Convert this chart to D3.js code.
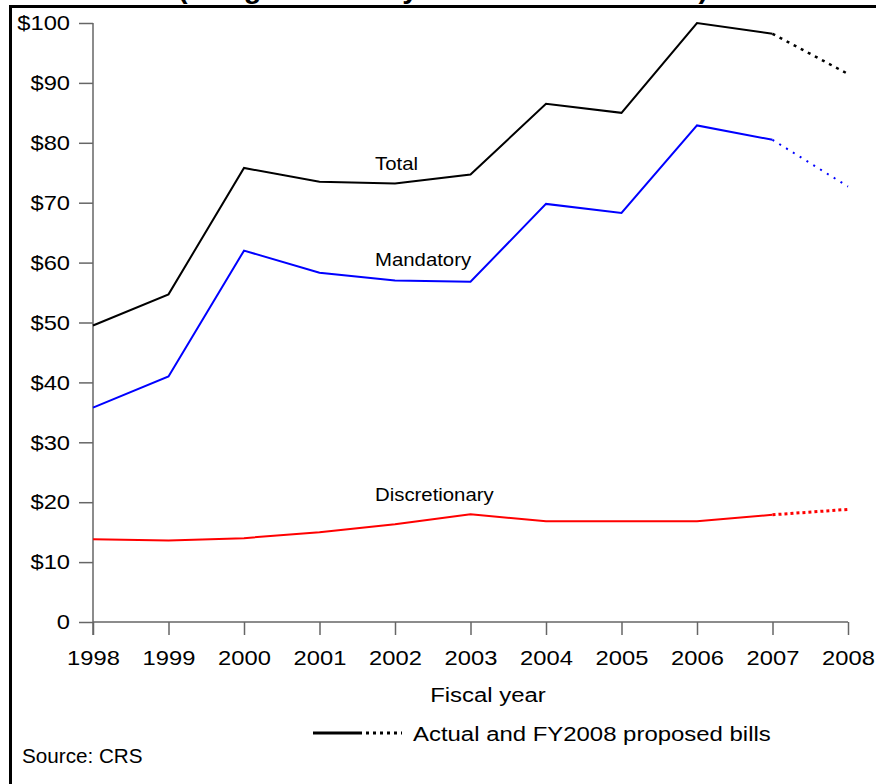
<!DOCTYPE html>
<html><head><meta charset="utf-8">
<script src="https://cdn.jsdelivr.net/npm/d3@7"></script>
<style>body{margin:0;background:#fff}svg{display:block;font-family:"Liberation Sans",Arial,sans-serif}</style>
</head><body><svg id="c" width="876" height="784"></svg>
<script>
const years = [1998,1999,2000,2001,2002,2003,2004,2005,2006,2007,2008];
const total = [49.5,54.7,75.8,73.5,73.2,74.7,86.5,85.0,100.0,98.2,91.5];
const mandatory = [35.8,41.0,62.0,58.3,57.0,56.8,69.8,68.3,82.9,80.5,72.7];
const discretionary = [13.8,13.6,14.0,15.0,16.3,18.0,16.8,16.8,16.8,17.9,18.8];
const yTicks = [0,10,20,30,40,50,60,70,80,90,100];
const yTickLabels = ["0","$10","$20","$30","$40","$50","$60","$70","$80","$90","$100"];
const seriesNames = ["Total","Mandatory","Discretionary"];
const seriesColors = ["#000000","#0000ff","#ff0000"];

const svg = d3.select("#c");
const x = d3.scaleLinear().domain([1998,2008]).range([93,848]);
const y = d3.scaleLinear().domain([0,100]).range([622,23]);

function stext(tx, ty, size, sx, str, anchor){
  return svg.append("text")
    .attr("transform",`translate(${tx},${ty}) scale(${sx},1)`)
    .attr("font-size",size).attr("text-anchor",anchor||"start").text(str);
}

// partially cropped title
stext(178,-2,28,1.03,"(Budget authority in billions of dollars)").attr("font-weight","bold");

// frame
svg.append("line").attr("x1",9).attr("x2",876).attr("y1",6.5).attr("y2",6.5).attr("stroke","#000").attr("stroke-width",3);
svg.append("line").attr("x1",10.5).attr("x2",10.5).attr("y1",5).attr("y2",784).attr("stroke","#000").attr("stroke-width",3);

const axisColor = "#666";
const tickSX = 1.13;
// y axis
const yAxis = d3.axisLeft(y).tickValues(yTicks).tickSize(14).tickPadding(8)
  .tickFormat((d,i)=>yTickLabels[i]);
const gy = svg.append("g").attr("transform","translate(93,0)").call(yAxis);
gy.select(".domain").attr("stroke",axisColor).attr("stroke-width",1.5).attr("d","M0,23V635");
gy.selectAll(".tick line").attr("stroke",axisColor).attr("stroke-width",1.5);
gy.selectAll(".tick text").attr("font-size",21).attr("fill","#000")
  .attr("font-family","Liberation Sans, Arial, sans-serif")
  .attr("x",-23/tickSX).attr("transform",`scale(${tickSX},1)`);

// x axis
const xAxis = d3.axisBottom(x).tickValues(years).tickSize(13).tickPadding(15).tickFormat(d3.format("d"));
const gx = svg.append("g").attr("transform","translate(0,622)").call(xAxis);
gx.select(".domain").attr("stroke",axisColor).attr("stroke-width",1.5).attr("d","M93,0H848");
gx.selectAll(".tick line").attr("stroke",axisColor).attr("stroke-width",1.5);
gx.selectAll(".tick text").attr("font-size",21).attr("fill","#000")
  .attr("font-family","Liberation Sans, Arial, sans-serif")
  .attr("transform",`scale(${tickSX},1)`);

// lines
const line = d3.line().x(d=>x(d[0])).y(d=>y(d[1]));
const data = [total, mandatory, discretionary];
const dashes = ["3,5","2,6","3,3"];
const dashWidths = [2.5,2,3];
data.forEach((vals,i)=>{
  const pts = years.map((yr,j)=>[yr,vals[j]]);
  svg.append("path").datum(pts.slice(0,10)).attr("d",line).attr("fill","none")
    .attr("stroke",seriesColors[i]).attr("stroke-width",2);
  svg.append("path").datum(pts.slice(9)).attr("d",line).attr("fill","none")
    .attr("stroke",seriesColors[i]).attr("stroke-width",dashWidths[i]).attr("stroke-dasharray",dashes[i]);
});

// series labels
const labelPos = [[375,170],[375,266],[375,501]];
seriesNames.forEach((n,i)=>{
  stext(labelPos[i][0],labelPos[i][1],18.5,1.1,n);
});

// axis title
stext(488,702,21,1.14,"Fiscal year","middle");

// legend
svg.append("line").attr("x1",313).attr("x2",362).attr("y1",733).attr("y2",733).attr("stroke","#000").attr("stroke-width",3);
svg.append("line").attr("x1",366).attr("x2",402).attr("y1",733).attr("y2",733).attr("stroke","#000").attr("stroke-width",3).attr("stroke-dasharray","3,4");
stext(413,741,21,1.14,"Actual and FY2008 proposed bills");

// source
stext(22,763,19.5,1.06,"Source: CRS");
</script></body></html>
